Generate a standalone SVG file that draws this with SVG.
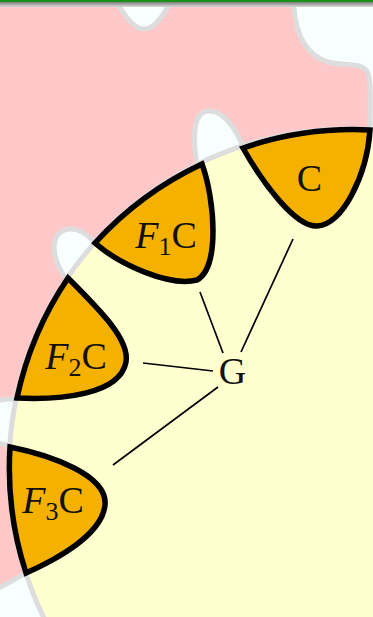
<svg xmlns="http://www.w3.org/2000/svg" width="373" height="617" viewBox="0 0 373 617">
  <defs>
    <linearGradient id="bar" x1="0" y1="0" x2="0" y2="1">
      <stop offset="0" stop-color="#7d7d7d"/>
      <stop offset="1" stop-color="#dadada"/>
    </linearGradient>
    <style>
      .node path { fill: #f5b100; stroke: #000; stroke-width: 5.5; stroke-linejoin: miter; }
      .lbl { font-family: "Liberation Serif", "Times New Roman", serif; font-size: 38px; fill: #111; text-anchor: middle; }
      .it { font-style: italic; }
      .sub { font-size: 26px; }
      #connectors line { stroke: #000; stroke-width: 1.7; }
    </style>
  </defs>
  <rect x="0" y="0" width="373" height="617" fill="#f7ffff"/>
  <!-- pink region -->
  <path id="region" d="M -10,-10 L 110,-10 C 122,12 132,29 144,29 C 155,29 165,15 176,-10 L 293,-10 L 294,8 C 296,35 306,55 328,62 C 340,66 358,62 366,70 C 372,76 370,95 370,150 L 258,180 C 245,150 232,112 210,111 C 192,110 192,140 198,170 L 110,262 C 98,245 85,228 70,229 C 50,230 46,258 75,290 L 35,400 L 10,399 C -5,398 -15,410 -15,422 C -15,435 -5,445 10,445 L 35,446 L 40,565 L 27,572 C 15,580 5,585 -10,592 Z" fill="#ffc8c8" stroke="#dddddd" stroke-width="5"/>
  <!-- yellow circle -->
  <circle id="world" cx="348" cy="468" r="339" fill="#ffffd0" stroke="#dddddd" stroke-width="5"/>
  <g id="connectors">
    <line x1="241" y1="352" x2="293" y2="239"/>
    <line x1="223" y1="353" x2="200" y2="292"/>
    <line x1="213" y1="371" x2="143" y2="363"/>
    <line x1="218" y1="387" x2="113" y2="465"/>
  </g>
  <g id="node-C" class="node">
    <path d="M 243,148 A 339 339 0 0 1 370,130 C 367,175 342,226 317,226 C 295,227 262,182 243,148 Z"/>
    <text class="lbl" x="309.5" y="191">C</text>
  </g>
  <g id="node-F1C" class="node">
    <path d="M 95,243 A 339 339 0 0 1 202,164 C 215,200 220,268 197,280 C 170,287 120,265 95,243 Z"/>
    <text class="lbl" x="166" y="248"><tspan class="it">F</tspan><tspan class="sub" dy="7">1</tspan><tspan dy="-7">C</tspan></text>
  </g>
  <g id="node-F2C" class="node">
    <path d="M 17,398 A 339 339 0 0 1 68,278 C 100,310 130,340 126,362 C 120,395 60,400 17,398 Z"/>
    <text class="lbl" x="76" y="369"><tspan class="it">F</tspan><tspan class="sub" dy="7">2</tspan><tspan dy="-7">C</tspan></text>
  </g>
  <g id="node-F3C" class="node">
    <path d="M 10,447 C 50,455 108,475 105,505 C 102,535 55,560 26,573 A 339 339 0 0 1 10,447 Z"/>
    <text class="lbl" x="53" y="513"><tspan class="it">F</tspan><tspan class="sub" dy="7">3</tspan><tspan dy="-7">C</tspan></text>
  </g>
  <g id="node-G">
    <text class="lbl" x="232.5" y="384">G</text>
  </g>
  <rect x="0" y="2" width="373" height="5" fill="url(#bar)"/>
  <rect x="0" y="0" width="373" height="2" fill="#1a8f1a"/>
</svg>
